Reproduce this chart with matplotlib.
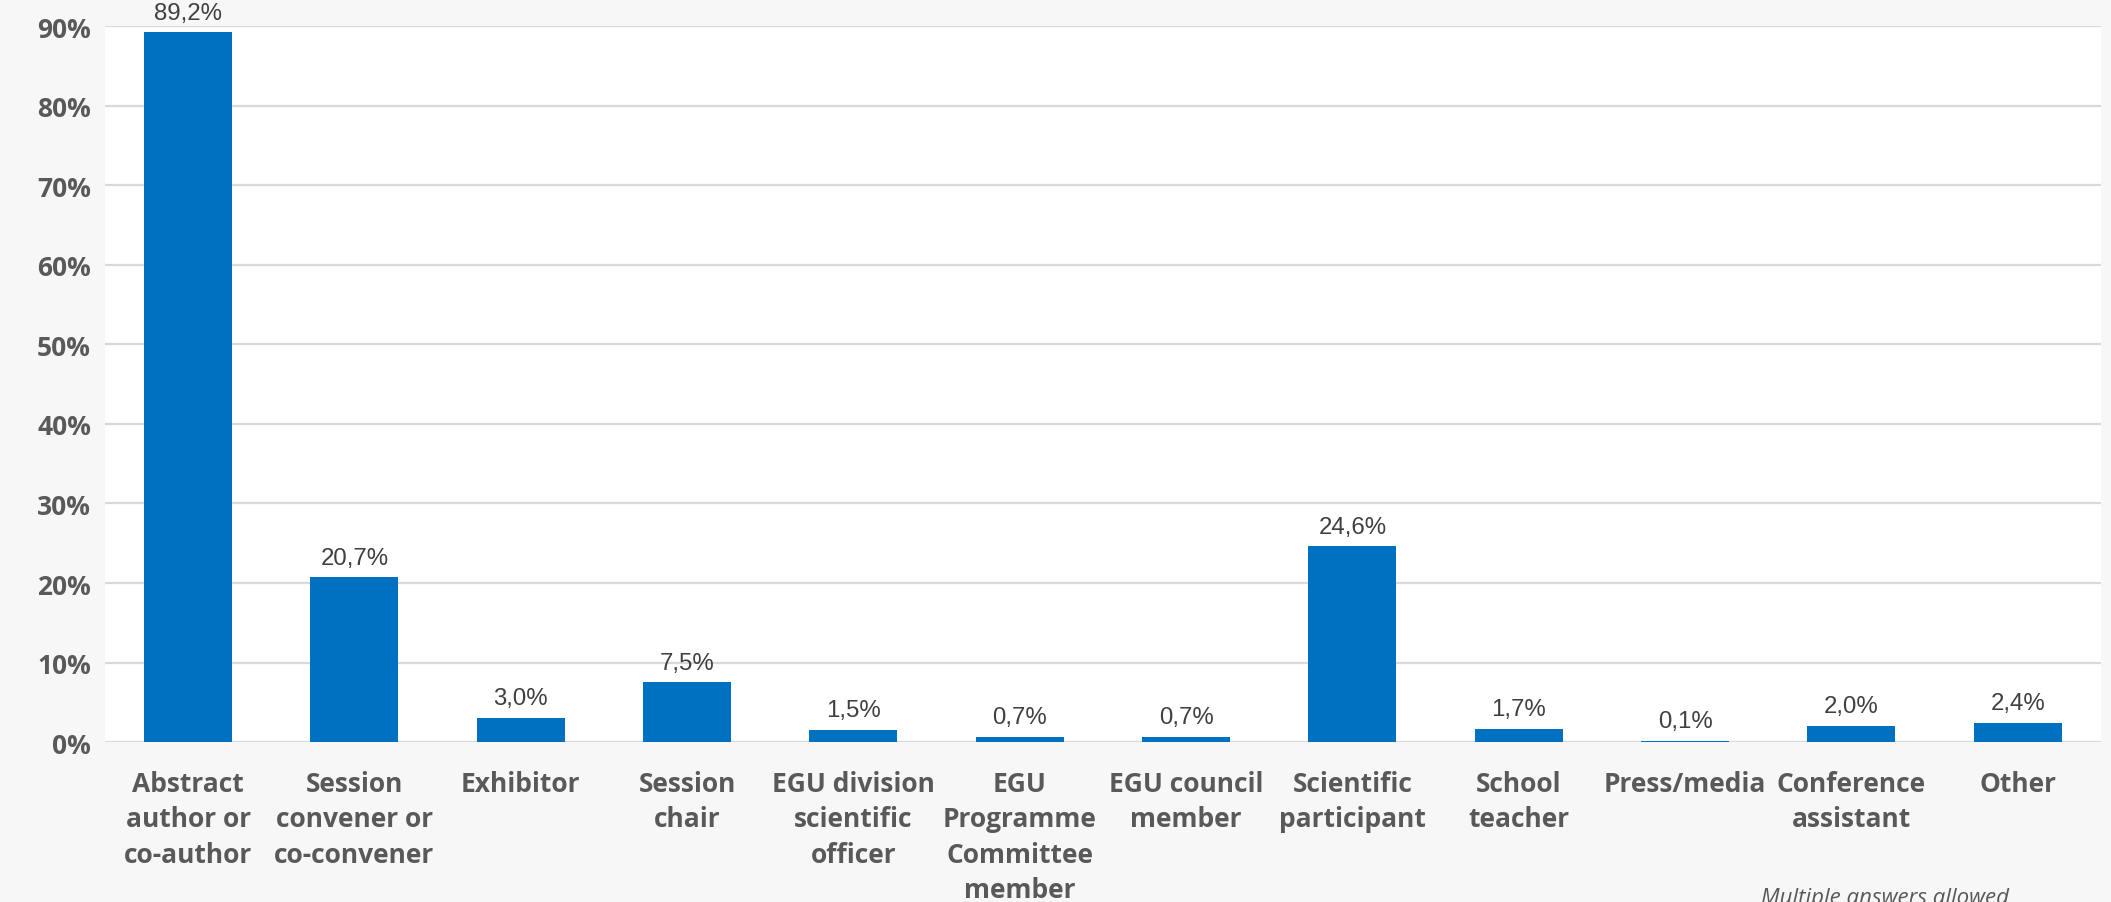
import matplotlib.pyplot as plt
import numpy as np

# Data
roles = ['Abstract\nauthor or\nco-author', 'Session\nconvener or\nco-convener', 'Exhibitor',
         'Session\nchair', 'EGU division\nscientific\nofficer', 'EGU\nProgramme\nCommittee\nmember',
         'EGU council\nmember', 'Scientific\nparticipant', 'School\nteacher', 'Press/media',
         'Conference\nassistant', 'Other']
shares = [89.2, 20.7, 3.0, 7.5, 1.5, 0.7, 0.7, 24.6, 1.7, 0.1, 2.0, 2.4]
yticks = [0, 10, 20, 30, 40, 50, 60, 70, 80, 90]

bar_color = '#0070c0'
text_gray = '#595959'

fig = plt.figure(figsize=(21.11, 9.03), dpi=100, facecolor='#f7f7f7')
ax = fig.add_axes([0.0497, 0.177, 0.9455, 0.793])
ax.set_facecolor('white')

x = np.arange(len(roles))
bars = ax.bar(x, shares, width=0.53, color=bar_color, zorder=3)

# value labels with decimal comma
for rect, v in zip(bars, shares):
    ax.annotate(f'{v:.1f}%'.replace('.', ','), (rect.get_x() + rect.get_width() / 2, v),
                xytext=(0, 10), textcoords='offset points', ha='center', va='baseline',
                fontsize=17.3, family='Liberation Sans', color='#404040', annotation_clip=False)

ax.set_xlim(-0.5, len(roles) - 0.5)
ax.set_ylim(0, 90)
ax.set_yticks(yticks)
ax.set_yticklabels([f'{t}%' for t in yticks])
ax.set_xticks(x)
ax.set_xticklabels(roles, linespacing=1.4)

for lbl in ax.get_xticklabels() + ax.get_yticklabels():
    lbl.set_family('Open Sans')
    lbl.set_fontweight('bold')
    lbl.set_fontsize(19)
    lbl.set_color(text_gray)

ax.tick_params(axis='x', length=0, pad=20)
ax.tick_params(axis='y', length=0, pad=10)
ax.grid(axis='y', color='#d9d9d9', linewidth=1.6, zorder=0)
for s in ax.spines.values():
    s.set_visible(False)

fig.text(0.893, 0.017, 'Multiple answers allowed', ha='center', va='top',
         family='Open Sans', style='italic', fontsize=16, color=text_gray)

plt.savefig('out.png', dpi=100, facecolor=fig.get_facecolor())
